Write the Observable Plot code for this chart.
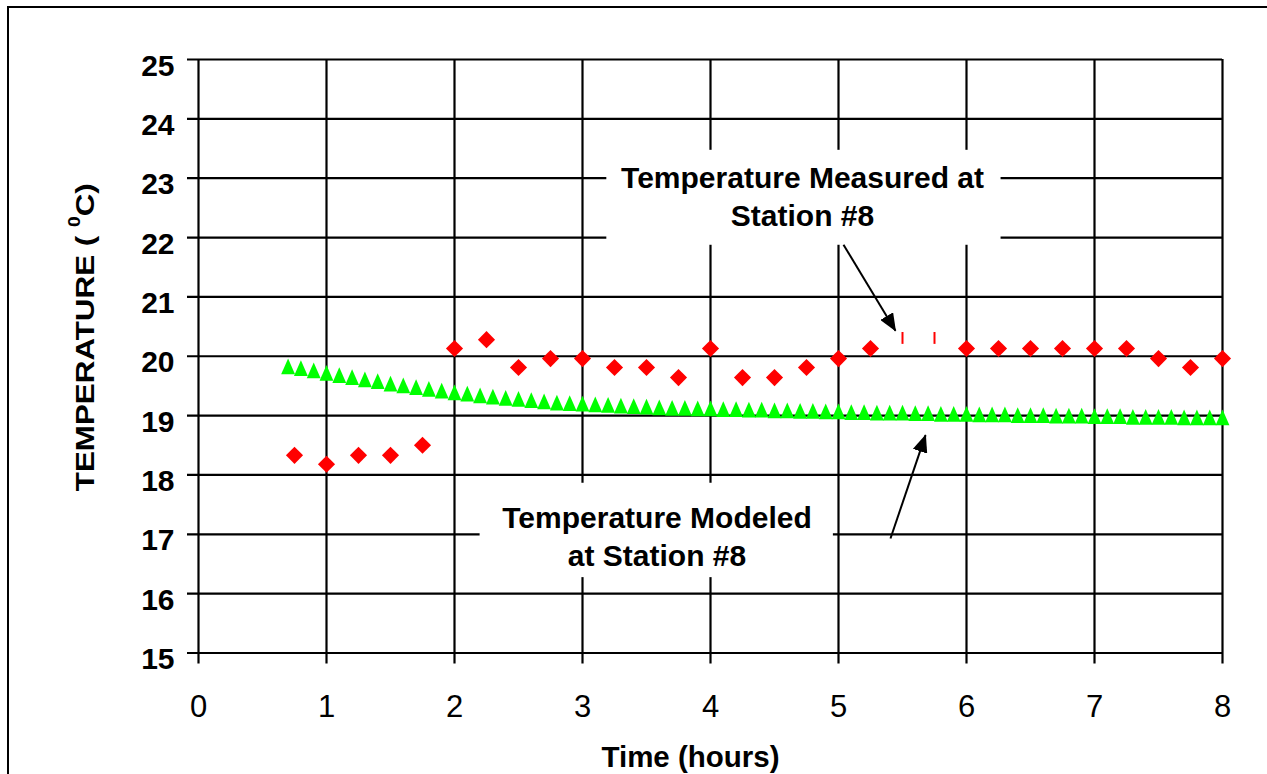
<!DOCTYPE html>
<html>
<head>
<meta charset="utf-8">
<script src="https://cdn.jsdelivr.net/npm/d3@7"></script>
<script src="https://cdn.jsdelivr.net/npm/@observablehq/plot@0.6"></script>
<style>
  html, body { margin: 0; padding: 0; background: #fff; }
  #wrap { position: relative; width: 1267px; height: 774px; overflow: hidden; background: #fff; }
  #frame { position: absolute; left: 7px; top: 5.5px; width: 1400px; height: 900px;
           border-left: 2.5px solid #000; border-top: 2.5px solid #000; pointer-events: none; }
</style>
</head>
<body>
<div id="wrap"><div id="chart"></div><div id="frame"></div></div>
<script>
// ---- tick labels ----
const xTicks = [0, 1, 2, 3, 4, 5, 6, 7, 8];
const yTicks = [15, 16, 17, 18, 19, 20, 21, 22, 23, 24, 25];

// ---- measured temperature at Station #8 (red diamonds) ----
const measuredTime = [0.75, 1.00, 1.25, 1.50, 1.75, 2.00, 2.25, 2.50, 2.75, 3.00,
                      3.25, 3.50, 3.75, 4.00, 4.25, 4.50, 4.75, 5.00, 5.25,
                      6.00, 6.25, 6.50, 6.75, 7.00, 7.25, 7.50, 7.75, 8.00];
const measuredTemp = [18.33, 18.18, 18.33, 18.33, 18.50, 20.13, 20.28, 19.81, 19.96, 19.96,
                      19.81, 19.81, 19.64, 20.13, 19.64, 19.64, 19.81, 19.96, 20.13,
                      20.13, 20.13, 20.13, 20.13, 20.13, 20.13, 19.96, 19.81, 19.96];
// two measured points drawn only as thin red dashes in the original
const partialTime = [5.50, 5.75];
const partialTemp = [20.30, 20.30];

// ---- modeled temperature at Station #8 (green triangles) ----
const modeledTime = [0.7, 0.8, 0.9, 1.0, 1.1, 1.2, 1.3, 1.4, 1.5, 1.6, 1.7, 1.8, 1.9,
                     2.0, 2.1, 2.2, 2.3, 2.4, 2.5, 2.6, 2.7, 2.8, 2.9,
                     3.0, 3.1, 3.2, 3.3, 3.4, 3.5, 3.6, 3.7, 3.8, 3.9,
                     4.0, 4.1, 4.2, 4.3, 4.4, 4.5, 4.6, 4.7, 4.8, 4.9,
                     5.0, 5.1, 5.2, 5.3, 5.4, 5.5, 5.6, 5.7, 5.8, 5.9,
                     6.0, 6.1, 6.2, 6.3, 6.4, 6.5, 6.6, 6.7, 6.8, 6.9,
                     7.0, 7.1, 7.2, 7.3, 7.4, 7.5, 7.6, 7.7, 7.8, 7.9, 8.0];
const modeledTemp = [19.83, 19.80, 19.76, 19.72, 19.68, 19.65, 19.61, 19.58, 19.54, 19.51, 19.48, 19.45, 19.42,
                     19.39, 19.37, 19.34, 19.32, 19.30, 19.28, 19.26, 19.24, 19.22, 19.21,
                     19.20, 19.19, 19.18, 19.17, 19.16, 19.15, 19.14, 19.13, 19.13, 19.12,
                     19.12, 19.11, 19.11, 19.10, 19.10, 19.09, 19.09, 19.08, 19.08, 19.07,
                     19.07, 19.06, 19.06, 19.05, 19.05, 19.05, 19.04, 19.04, 19.03, 19.03,
                     19.03, 19.02, 19.02, 19.02, 19.01, 19.01, 19.01, 19.00, 19.00, 19.00,
                     18.99, 18.99, 18.99, 18.98, 18.98, 18.98, 18.98, 18.97, 18.97, 18.97, 18.97];

// ---- texts ----
const xTitle = "Time (hours)";
const yTitle = "TEMPERATURE ( 0C)";
const labelTexts = ["Temperature Measured at\nStation #8", "Temperature Modeled\nat Station #8"];

// ---- annotation placement (data coordinates) ----
const labelPos = [{x: 4.719, y: 22.715}, {x: 3.582, y: 16.987}];
const labelBoxes = [{x1: 3.19, x2: 6.27, y1: 21.87, y2: 23.47},
                    {x1: 2.20, x2: 4.96, y1: 16.27, y2: 17.86}];
const arrows = [{x1: 5.039, y1: 21.88, x2: 5.445, y2: 20.43},
                {x1: 5.406, y1: 16.93, x2: 5.680, y2: 18.67}];

const measured = measuredTime.map((t, i) => ({t, v: measuredTemp[i]}));
const partial = partialTime.map((t, i) => ({t, v: partialTemp[i]}));
const modeled = modeledTime.map((t, i) => ({t, v: modeledTemp[i]}));
const labels = labelTexts.map((text, i) => ({text, ...labelPos[i]}));

// Excel-like marker shapes (centered on their bounding box)
const excelTriangle = {
  draw(context, size) {
    const k = Math.sqrt(size / Math.PI);
    const hw = 1.1 * k, hh = 1.25 * k;
    context.moveTo(0, -hh);
    context.lineTo(hw, hh);
    context.lineTo(-hw, hh);
    context.closePath();
  }
};
const excelDiamond = {
  draw(context, size) {
    const k = Math.sqrt(size / Math.PI) * 1.1;
    context.moveTo(0, -k);
    context.lineTo(k, 0);
    context.lineTo(0, k);
    context.lineTo(-k, 0);
    context.closePath();
  }
};

const FONT = "'Liberation Sans', Arial, Helvetica, sans-serif";

const chart = Plot.plot({
  width: 1267,
  height: 774,
  marginLeft: 198,
  marginRight: 45,
  marginTop: 59,
  marginBottom: 121.5,
  x: {domain: [0, 8], axis: null},
  y: {domain: [15, 25], axis: null},
  style: {fontFamily: FONT, background: "transparent", overflow: "visible", color: "#000"},
  marks: [
    // grid + ticks
    Plot.ruleY(yTicks, {y: d => d, x1: 0, x2: 8, insetLeft: -11, stroke: "#000", strokeWidth: 2.2}),
    Plot.ruleX(xTicks, {x: d => d, y1: 25, y2: 15, insetBottom: -11, stroke: "#000", strokeWidth: 2.2}),
    // tick labels
    Plot.text(yTicks, {x: 0, y: d => d, text: d => String(d), dx: -24, dy: 6.5, textAnchor: "end",
                       lineAnchor: "middle", fontSize: 30, fontWeight: "bold", fill: "#000"}),
    Plot.text(xTicks, {x: d => d, y: 15, text: d => String(d), dy: 42, lineAnchor: "top",
                       textAnchor: "middle", fontSize: 31, fill: "#000"}),
    // axis titles
    Plot.text([xTitle], {frameAnchor: "bottom", text: d => d, dx: -20, dy: 105, fontSize: 29.5,
                         textAnchor: "middle", lineAnchor: "middle", fontWeight: "bold", fill: "#000"}),
    Plot.text([yTitle], {frameAnchor: "left", text: d => d, rotate: -90, dx: -113, dy: -19,
                         textAnchor: "middle", lineAnchor: "middle", fontSize: 26, fontWeight: "bold", fill: "#000"}),
    // annotation boxes and texts
    Plot.rect(labelBoxes, {x1: "x1", x2: "x2", y1: "y1", y2: "y2", fill: "#fff"}),
    Plot.text(labels, {x: "x", y: "y", text: "text", fontSize: 30, fontWeight: "bold",
                       textAnchor: "middle", lineAnchor: "middle", lineHeight: 1.27, fill: "#000"}),
    Plot.link(arrows, {x1: "x1", y1: "y1", x2: "x2", y2: "y2", stroke: "#000", strokeWidth: 2}),
    // data
    Plot.dot(modeled, {x: "t", y: "v", symbol: excelTriangle, r: 6.3, fill: "#00ff00", stroke: "none"}),
    Plot.ruleX(partial, {x: "t", y1: d => d.v + 0.1, y2: d => d.v - 0.1, stroke: "#ff0000", strokeWidth: 2}),
    Plot.dot(measured, {x: "t", y: "v", symbol: excelDiamond, r: 7.8, fill: "#ff0000", stroke: "none"})
  ]
});

document.getElementById("chart").appendChild(chart);

// filled arrowheads
const svg = d3.select(chart);
const defs = svg.append("defs");
defs.append("marker")
  .attr("id", "arrowhead")
  .attr("viewBox", "0 0 18 15")
  .attr("markerWidth", 18)
  .attr("markerHeight", 15)
  .attr("refX", 17)
  .attr("refY", 7.5)
  .attr("orient", "auto")
  .attr("markerUnits", "userSpaceOnUse")
  .append("path")
  .attr("d", "M0,0L18,7.5L0,15Z")
  .attr("fill", "#000");
svg.selectAll('g[aria-label="link"] path').attr("marker-end", "url(#arrowhead)");

// superscript degree "0" in the y title, stretched along its length like the original
svg.selectAll("text").filter(function () { return this.textContent === yTitle; }).each(function () {
  const t = d3.select(this);
  t.text(null);
  t.append("tspan").text("TEMPERATURE ( ");
  t.append("tspan").attr("font-size", "16px").attr("dy", "-14px").text("0");
  t.append("tspan").attr("dy", "14px").text("C)");
  t.attr("textLength", 308).attr("lengthAdjust", "spacingAndGlyphs");
});
</script>
</body>
</html>
